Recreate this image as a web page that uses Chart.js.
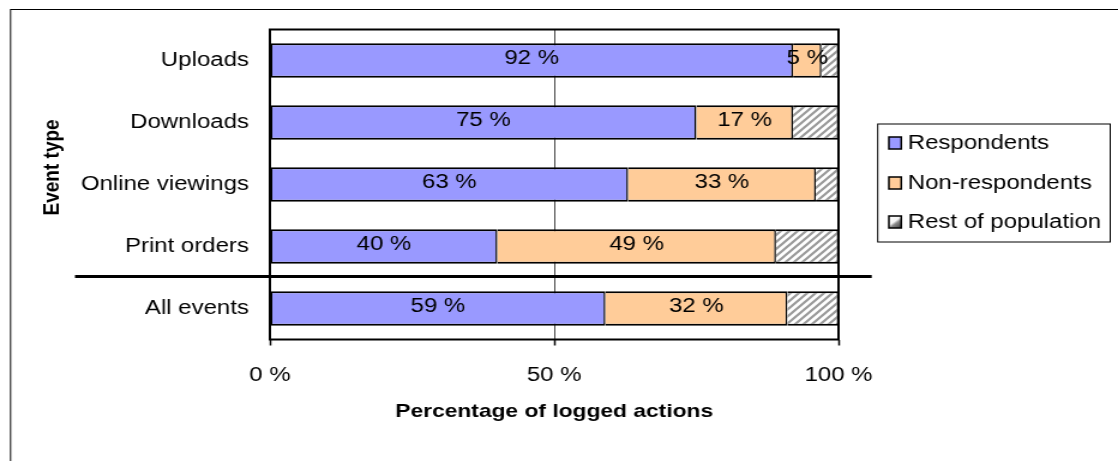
<!DOCTYPE html>
<html>
<head>
<meta charset="utf-8">
<script src="https://cdn.jsdelivr.net/npm/chart.js@4/dist/chart.umd.min.js"></script>
<style>
  html, body { margin: 0; padding: 0; background: #fff; overflow: hidden; }
  /* the drawing is laid out on a 932px wide canvas and widened to 1118px */
  #wrap { width: 932px; height: 461px; transform: scaleX(1.19957); transform-origin: 0 0; }
  #c { display: block; }
</style>
</head>
<body>
<div id="wrap"><canvas id="c" width="932" height="461"></canvas></div>
<script>
// Share of logged actions per event type, by user group (percent)
const categories = ['Uploads', 'Downloads', 'Online viewings', 'Print orders', 'All events'];
const respondents = [92, 75, 63, 40, 59];
const nonRespondents = [5, 17, 33, 49, 32];
const restOfPopulation = [3, 8, 4, 11, 9];
const seriesNames = ['Respondents', 'Non-respondents', 'Rest of population'];
const xTickLabels = ['0 %', '50 %', '100 %'];
const xTitle = 'Percentage of logged actions';
const yTitle = 'Event type';

const FONT = '"Liberation Sans", Arial, sans-serif';
Chart.defaults.font.family = FONT;
Chart.defaults.color = '#000';

const canvas = document.getElementById('c');
const ctx0 = canvas.getContext('2d');

// grey diagonal hatching for the remaining population
const tile = document.createElement('canvas');
tile.width = 7; tile.height = 7;
const t = tile.getContext('2d');
t.fillStyle = '#fff';
t.fillRect(0, 0, 7, 7);
t.strokeStyle = '#9a9a9a';
t.lineWidth = 2.2;
t.beginPath();
t.moveTo(-1, 8); t.lineTo(8, -1);
t.moveTo(-1, 1); t.lineTo(1, -1);
t.moveTo(6, 8); t.lineTo(8, 6);
t.stroke();
const hatch = ctx0.createPattern(tile, 'repeat');

const firstBorder = { top: 2, bottom: 2, left: 1.5, right: 1.5 };
const nextBorder = { top: 2, bottom: 2, left: 0, right: 1.5 };

const extras = {
  id: 'extras',
  beforeDraw(chart) {
    const ctx = chart.ctx;
    ctx.save();
    ctx.strokeStyle = '#000';
    ctx.lineWidth = 1;
    ctx.strokeRect(8.8, 9.5, chart.width + 20, chart.height + 20);
    ctx.restore();
  },
  afterDatasetsDraw(chart) {
    const ctx = chart.ctx;
    const a = chart.chartArea;
    ctx.save();

    // plot frame
    ctx.strokeStyle = '#000';
    ctx.lineWidth = 2;
    ctx.strokeRect(a.left, a.top, a.right - a.left, a.bottom - a.top);

    // rule separating the totals row
    const ys = chart.scales.y;
    const sepY = (ys.getPixelForValue(3) + ys.getPixelForValue(4)) / 2 - 1;
    ctx.lineWidth = 3;
    ctx.beginPath();
    ctx.moveTo(62.5, sepY);
    ctx.lineTo(726.7, sepY);
    ctx.stroke();

    // value labels for the two surveyed groups
    ctx.font = '20px ' + FONT;
    ctx.fillStyle = '#000';
    ctx.textAlign = 'center';
    ctx.textBaseline = 'middle';
    [0, 1].forEach(di => {
      const meta = chart.getDatasetMeta(di);
      meta.data.forEach((bar, i) => {
        const p = bar.getProps(['x', 'base', 'y'], true);
        const v = chart.data.datasets[di].data[i];
        ctx.fillText(v + ' %', (p.x + p.base) / 2, p.y - 2);
      });
    });

    // vertical axis title
    ctx.save();
    ctx.translate(44.2, 167.4);
    ctx.rotate(-Math.PI / 2);
    ctx.font = 'bold 19px ' + FONT;
    ctx.fillText(yTitle, 0, 0);
    ctx.restore();

    // legend
    const lx = 731.7, ly = 124, lw = 193.8, lh = 118;
    ctx.lineWidth = 1;
    ctx.strokeStyle = '#000';
    ctx.strokeRect(lx, ly, lw, lh);
    const rows = [143, 183, 222];
    ctx.textAlign = 'left';
    chart.data.datasets.forEach((ds, i) => {
      const bx = 741, bw = 10.3, bh = 12, by = rows[i] - bh / 2;
      let fill = ds.backgroundColor;
      if (i === 2) {
        const g = ctx.createLinearGradient(bx, by, bx + bw, by + bh);
        g.addColorStop(0, '#ffffff');
        g.addColorStop(0.45, '#f4f4f4');
        g.addColorStop(0.6, '#8a8a8a');
        g.addColorStop(1, '#3c3c3c');
        fill = g;
      }
      ctx.fillStyle = fill;
      ctx.fillRect(bx, by, bw, bh);
      ctx.lineWidth = 1.5;
      ctx.strokeStyle = '#000';
      ctx.strokeRect(bx, by, bw, bh);
      ctx.fillStyle = '#000';
      ctx.fillText(ds.label, 756.7, rows[i] + 0.5);
    });

    ctx.restore();
  }
};

new Chart(canvas, {
  type: 'bar',
  data: {
    labels: categories,
    datasets: [
      { label: seriesNames[0], data: respondents, backgroundColor: '#9999ff', borderWidth: firstBorder },
      { label: seriesNames[1], data: nonRespondents, backgroundColor: '#ffcc99', borderWidth: nextBorder },
      { label: seriesNames[2], data: restOfPopulation, backgroundColor: hatch, borderWidth: nextBorder }
    ]
  },
  options: {
    indexAxis: 'y',
    responsive: false,
    animation: false,
    devicePixelRatio: 1,
    layout: { padding: { left: 0, top: 28, right: 233, bottom: 0 } },
    datasets: {
      bar: {
        borderColor: '#000',
        borderSkipped: false,
        categoryPercentage: 1,
        barPercentage: 0.554,
        inflateAmount: 0
      }
    },
    plugins: {
      legend: { display: false },
      tooltip: { enabled: false }
    },
    scales: {
      x: {
        stacked: true,
        min: 0,
        max: 100,
        ticks: {
          stepSize: 50,
          padding: 17.5,
          font: { size: 20 },
          color: '#000',
          maxRotation: 0,
          callback: (v, i) => xTickLabels[i]
        },
        grid: { color: '#404040', lineWidth: 1, tickLength: 6, tickColor: '#000', tickWidth: 1.5 },
        border: { display: false },
        title: {
          display: true,
          text: xTitle,
          color: '#000',
          font: { size: 19, weight: 'bold' },
          padding: { top: 0, bottom: 38 }
        },
        afterFit: s => { s.height = 121.5; }
      },
      y: {
        stacked: true,
        ticks: { padding: 17.5, font: { size: 20 }, color: '#000' },
        grid: { display: false, drawTicks: false },
        border: { display: false },
        afterFit: s => { s.width = 225; }
      }
    }
  },
  plugins: [extras]
});
</script>
</body>
</html>
